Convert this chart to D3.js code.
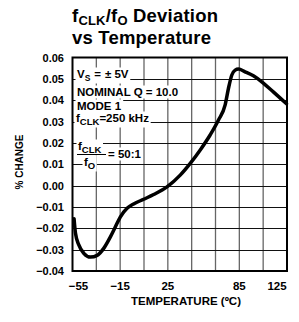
<!DOCTYPE html>
<html><head><meta charset="utf-8">
<script src="https://cdn.jsdelivr.net/npm/d3@7"></script>
<style>
html,body{margin:0;padding:0;background:#fff;}
svg{display:block;font-family:"Liberation Sans",Arial,Helvetica,sans-serif;font-weight:bold;}
</style></head>
<body><svg id="c" width="299" height="322"></svg>
<script>
// data
const temps = [-53.7,-52.5,-49.7,-45.5,-39.9,-34.3,-28.8,-23.2,-19.0,-14.8,-9.2,-3.7,4.7,13.1,24.3,35.4,43.8,52.2,60.5,67.5,73.1,75.9,78.7,81.5,84.2,89.8,96.8,103.8,113.5,124.6];
const changes = [-0.0155,-0.0223,-0.0278,-0.0317,-0.0335,-0.0327,-0.0294,-0.0240,-0.0193,-0.0146,-0.0106,-0.0086,-0.0064,-0.0042,-0.0006,0.0049,0.0104,0.0167,0.0237,0.0307,0.0378,0.0456,0.0518,0.0541,0.0546,0.0533,0.0514,0.0486,0.0439,0.0383];
const xTicks = [-55,-15,25,85,125];
const xGrid = [-55,-35,-15,5,25,45,65,85,105,125];
const yTicks = [-0.04,-0.03,-0.02,-0.01,0.00,0.01,0.02,0.03,0.04,0.05,0.06];

const svg = d3.select("#c");
const L=72.5, R=287, T=57.5, B=271;
const x = d3.scaleLinear().domain([-55,125]).range([L,R]);
const y = d3.scaleLinear().domain([-0.04,0.06]).range([B,T]);

// title
const title = svg.append("text").attr("x",72).attr("y",22).attr("font-size",18.5).attr("letter-spacing",0.2);
title.append("tspan").text("f");
title.append("tspan").attr("font-size",13).attr("dy",3).text("CLK");
title.append("tspan").attr("dy",-3).text("/f");
title.append("tspan").attr("font-size",13).attr("dy",3).text("O");
title.append("tspan").attr("dy",-3).text(" Deviation");
svg.append("text").attr("x",72).attr("y",44).attr("font-size",18.5).attr("letter-spacing",0.2).text("vs Temperature");

// grid
const grid = svg.append("g");
grid.selectAll("line.v").data(xGrid.slice(1,-1)).join("line")
  .attr("x1",d=>x(d)).attr("x2",d=>x(d)).attr("y1",T).attr("y2",B)
  .attr("stroke","#666").attr("stroke-width",1.3);
grid.selectAll("line.h").data(yTicks.slice(1,-1)).join("line")
  .attr("x1",L).attr("x2",R).attr("y1",d=>Math.round(y(d))+0.5).attr("y2",d=>Math.round(y(d))+0.5)
  .attr("stroke","#111").attr("stroke-width",1);

// legend text with white backgrounds
const leg = svg.append("g").attr("font-size",11.5);
function addText(parentG, xx, yy, build){
  const g = parentG.append("g");
  const t = g.append("text").attr("x",xx).attr("y",yy);
  build(t);
  const bb = t.node().getBBox();
  g.insert("rect","text").attr("x",bb.x-1.5).attr("y",bb.y-0.5).attr("width",bb.width+3).attr("height",bb.height+1).attr("fill","#fff");
  return g;
}
addText(leg,77,78,t=>{t.append("tspan").text("V");t.append("tspan").attr("font-size",8.5).attr("dy",3).text("S");t.append("tspan").attr("dy",-3).attr("dx",4).text("=");t.append("tspan").attr("dx",4).text("\u00B1");t.append("tspan").attr("dx",3).text("5V");});
addText(leg,77,96,t=>t.text("NOMINAL  Q = 10.0"));
addText(leg,77,110,t=>t.text("MODE  1"));
addText(leg,76,122,t=>{t.append("tspan").text("f");t.append("tspan").attr("font-size",9.5).attr("dy",3).text("CLK");t.append("tspan").attr("dy",-3).text("=250 kHz");});
addText(leg,78,150,t=>{t.append("tspan").text("f");t.append("tspan").attr("font-size",9.5).attr("dy",3).text("CLK");});
addText(leg,84,166,t=>{t.append("tspan").text("f");t.append("tspan").attr("font-size",9.5).attr("dy",3).text("O");});
leg.append("line").attr("x1",77).attr("x2",106).attr("y1",154.5).attr("y2",154.5).attr("stroke","#000").attr("stroke-width",1);
addText(leg,108,158,t=>t.text("= 50:1"));

// curve
const pts = temps.map((t,i)=>[t,changes[i]]);
svg.append("path").datum(pts)
  .attr("fill","none").attr("stroke","#000").attr("stroke-width",3.5).attr("stroke-linejoin","round").attr("stroke-linecap","round")
  .attr("d",d3.line().x(d=>x(d[0])).y(d=>y(d[1])).curve(d3.curveMonotoneX));

// frame
svg.append("rect").attr("x",L).attr("y",T).attr("width",R-L).attr("height",B-T)
  .attr("fill","none").attr("stroke","#000").attr("stroke-width",2);

// y axis labels
const fmt = v => (v<0?"\u2212":"") + Math.abs(v).toFixed(2);
svg.append("g").attr("font-size",11).attr("text-anchor","end")
  .selectAll("text").data(yTicks).join("text")
  .attr("x",64).attr("y",d=>y(d)+4).text(fmt);

// x axis labels
svg.append("g").attr("font-size",11.5).attr("text-anchor","middle")
  .selectAll("text").data(xTicks).join("text")
  .attr("x",(d,i)=> x(d) + (i===0?6:(i===xTicks.length-1?-10:0)))
  .attr("y",290).text(d=>(d<0?"\u2212":"")+Math.abs(d));

// axis titles
svg.append("text").attr("x",186).attr("y",305).attr("font-size",11.5).attr("text-anchor","middle").text("TEMPERATURE (\u00BAC)");
svg.append("text").attr("transform","translate(23,162) rotate(-90)").attr("font-size",10).attr("text-anchor","middle").text("% CHANGE");
</script></body></html>
